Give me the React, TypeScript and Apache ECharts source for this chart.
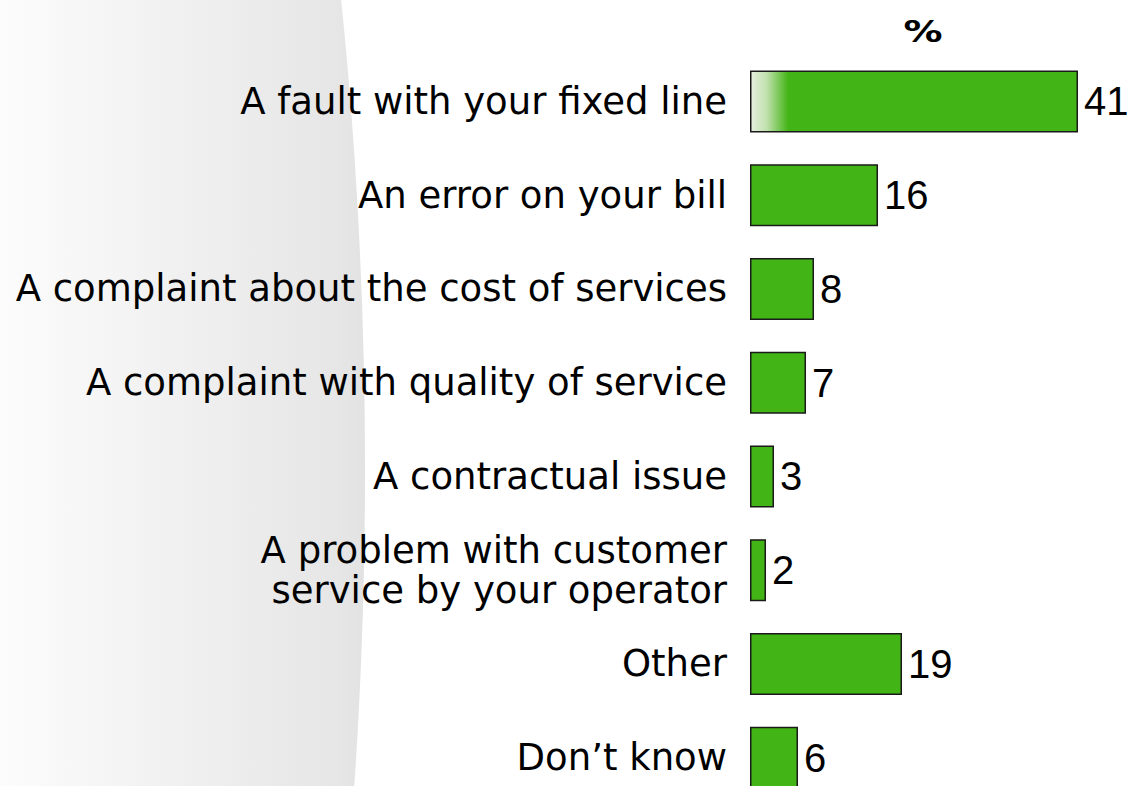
import React, { useEffect, useRef } from "react";
import * as echarts from "echarts";

const categories = [
  "A fault with your fixed line",
  "An error on your bill",
  "A complaint about the cost of services",
  "A complaint with quality of service",
  "A contractual issue",
  "A problem with customer\nservice by your operator",
  "Other",
  "Don\u2019t know",
];
const values = [41, 16, 8, 7, 3, 2, 19, 6];
const unitLabel = "%";

const GREEN = "#42B415";

export default function App() {
  const ref = useRef<HTMLDivElement>(null);
  useEffect(() => {
    if (!ref.current) return;
    const chart = echarts.init(ref.current, null, { renderer: "svg" });
    const data = values.map((v, i) =>
      i === 0
        ? {
            value: v,
            itemStyle: {
              color: {
                type: "linear",
                x: 0,
                y: 0,
                x2: 1,
                y2: 0,
                colorStops: [
                  { offset: 0, color: "#e6f0df" },
                  { offset: 0.05, color: "#bfe0ac" },
                  { offset: 0.115, color: GREEN },
                  { offset: 1, color: GREEN },
                ],
              },
            },
          }
        : v
    );
    chart.setOption({
      animation: false,
      backgroundColor: "#ffffff",
      graphic: [
        {
          type: "ellipse",
          z: -10,
          silent: true,
          shape: { cx: -2000, cy: 470, rx: 2365, ry: 3300 },
          style: {
            fill: {
              type: "linear",
              x: 0,
              y: 0,
              x2: 367,
              y2: 0,
              global: true,
              colorStops: [
                { offset: 0, color: "#fcfcfc" },
                { offset: 0.5, color: "#f0f0f0" },
                { offset: 0.92, color: "#e6e6e6" },
                { offset: 1, color: "#e2e2e2" },
              ],
            },
          },
        },
        {
          type: "text",
          x: 923,
          y: 32,
          scaleX: 1.3,
          style: {
            text: unitLabel,
            fontFamily: "DejaVu Sans",
            fontWeight: "bold",
            fontSize: 30,
            fill: "#000",
            align: "center",
            verticalAlign: "middle",
          },
        },
      ],
      grid: { left: 750, top: 54.5, width: 328, height: 750, containLabel: false },
      xAxis: {
        type: "value",
        min: 0,
        max: 41,
        show: false,
      },
      yAxis: {
        type: "category",
        data: categories,
        inverse: true,
        axisLine: { show: false },
        axisTick: { show: false },
        splitLine: { show: false },
        axisLabel: {
          margin: 23,
          color: "#000",
          fontFamily: "DejaVu Sans",
          fontSize: 37,
          lineHeight: 40,
          padding: [0, 0, 8, 0],
        },
      },
      series: [
        {
          type: "bar",
          data,
          barWidth: 62,
          itemStyle: { color: GREEN, borderColor: "#1a1a1a", borderWidth: 1.5 },
          label: {
            show: true,
            position: "right",
            distance: 6,
            color: "#000",
            fontFamily: "Liberation Sans",
            fontSize: 40,
          },
        },
      ],
    });
    return () => chart.dispose();
  }, []);
  return (
    <div
      ref={ref}
      style={{ position: "fixed", left: 0, top: 0, width: 1128, height: 820 }}
    />
  );
}
